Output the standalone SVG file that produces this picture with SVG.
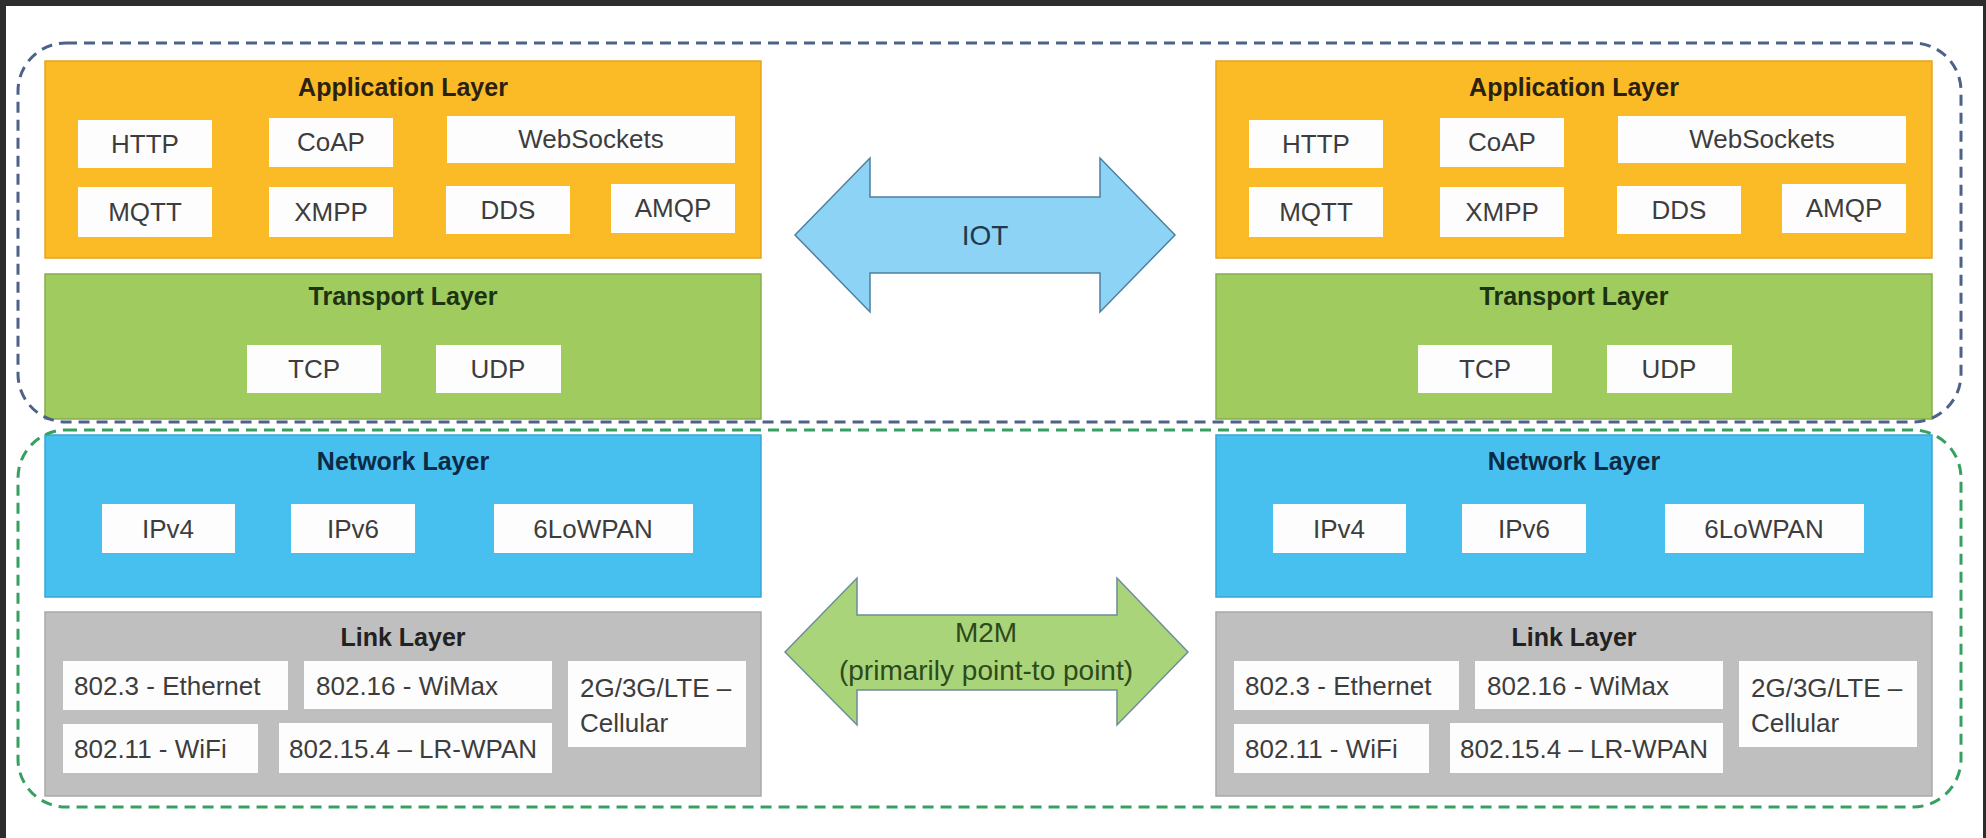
<svg xmlns="http://www.w3.org/2000/svg" width="1986" height="838" viewBox="0 0 1986 838">
  <style>
    .bg { fill: #ffffff; }
    .frame { fill: #2d2d2d; }
    .app { fill: #fbbb27; stroke: #e6a51c; stroke-width: 1.5; }
    .trn { fill: #a0cb5e; stroke: #86ad4c; stroke-width: 1.5; }
    .net { fill: #47c0f0; stroke: #36a6d6; stroke-width: 1.5; }
    .lnk { fill: #bfbfbf; stroke: #a9a9a9; stroke-width: 1.5; }
    .box { fill: #fdfdfd; }
    .title { font-family: "Liberation Sans", Arial, sans-serif; font-weight: bold; font-size: 25px; text-anchor: middle; }
    .lbl { font-family: "Liberation Sans", Arial, sans-serif; font-size: 26px; fill: #3d3d3d; }
    .c { text-anchor: middle; }
    .zone-iot { fill: none; stroke: #4d6189; stroke-width: 3; stroke-dasharray: 11 7; }
    .zone-m2m { fill: none; stroke: #36a062; stroke-width: 3; stroke-dasharray: 11 7; }
    .arrow-iot { fill: #8dd3f5; stroke: #4f7fa0; stroke-width: 1.5; }
    .arrow-m2m { fill: #a9d47a; stroke: #6e8c9a; stroke-width: 1.5; }
    .atext { font-family: "Liberation Sans", Arial, sans-serif; font-size: 28px; text-anchor: middle; }
  </style>

  <rect class="bg" x="0" y="0" width="1986" height="838"/>
  <rect class="frame" x="0" y="0" width="1986" height="6"/>
  <rect class="frame" x="0" y="0" width="6" height="838"/>
  <rect class="frame" x="1983" y="0" width="3" height="838"/>

  <!-- protocol stack, left device -->
  <g id="stack-left">
    <g id="app-left">
      <rect class="app" x="45" y="61" width="716" height="197"/>
      <text class="title" x="403" y="96" fill="#2a2110">Application Layer</text>
      <rect class="box" x="78" y="120" width="134" height="48"/><text class="lbl c" x="145" y="153">HTTP</text>
      <rect class="box" x="269" y="118" width="124" height="49"/><text class="lbl c" x="331" y="151">CoAP</text>
      <rect class="box" x="447" y="116" width="288" height="47"/><text class="lbl c" x="591" y="148">WebSockets</text>
      <rect class="box" x="78" y="187" width="134" height="50"/><text class="lbl c" x="145" y="221">MQTT</text>
      <rect class="box" x="269" y="187" width="124" height="50"/><text class="lbl c" x="331" y="221">XMPP</text>
      <rect class="box" x="446" y="186" width="124" height="48"/><text class="lbl c" x="508" y="219">DDS</text>
      <rect class="box" x="611" y="184" width="124" height="49"/><text class="lbl c" x="673" y="217">AMQP</text>
    </g>
    <g id="transport-left">
      <rect class="trn" x="45" y="274" width="716" height="145"/>
      <text class="title" x="403" y="305" fill="#1d3312">Transport Layer</text>
      <rect class="box" x="247" y="345" width="134" height="48"/><text class="lbl c" x="314" y="378">TCP</text>
      <rect class="box" x="436" y="345" width="125" height="48"/><text class="lbl c" x="498" y="378">UDP</text>
    </g>
    <g id="network-left">
      <rect class="net" x="45" y="435" width="716" height="162"/>
      <text class="title" x="403" y="470" fill="#0d2a45">Network Layer</text>
      <rect class="box" x="102" y="504" width="133" height="49"/><text class="lbl c" x="168" y="538">IPv4</text>
      <rect class="box" x="291" y="504" width="124" height="49"/><text class="lbl c" x="353" y="538">IPv6</text>
      <rect class="box" x="494" y="504" width="199" height="49"/><text class="lbl c" x="593" y="538">6LoWPAN</text>
    </g>
    <g id="link-left">
      <rect class="lnk" x="45" y="612" width="716" height="184"/>
      <text class="title" x="403" y="646" fill="#222222">Link Layer</text>
      <rect class="box" x="63" y="661" width="225" height="49"/><text class="lbl" x="74" y="695">802.3 - Ethernet</text>
      <rect class="box" x="304" y="661" width="248" height="48"/><text class="lbl" x="316" y="695">802.16 - WiMax</text>
      <rect class="box" x="568" y="661" width="178" height="86"/>
      <text class="lbl" x="580" y="697">2G/3G/LTE –</text>
      <text class="lbl" x="580" y="732">Cellular</text>
      <rect class="box" x="63" y="724" width="195" height="49"/><text class="lbl" x="74" y="758">802.11 - WiFi</text>
      <rect class="box" x="279" y="723" width="273" height="50"/><text class="lbl" x="289" y="758">802.15.4 – LR-WPAN</text>
    </g>
  </g>

  <!-- protocol stack, right device (same layout, shifted) -->
  <g id="stack-right" transform="translate(1171,0)">
    <g id="app-right">
      <rect class="app" x="45" y="61" width="716" height="197"/>
      <text class="title" x="403" y="96" fill="#2a2110">Application Layer</text>
      <rect class="box" x="78" y="120" width="134" height="48"/><text class="lbl c" x="145" y="153">HTTP</text>
      <rect class="box" x="269" y="118" width="124" height="49"/><text class="lbl c" x="331" y="151">CoAP</text>
      <rect class="box" x="447" y="116" width="288" height="47"/><text class="lbl c" x="591" y="148">WebSockets</text>
      <rect class="box" x="78" y="187" width="134" height="50"/><text class="lbl c" x="145" y="221">MQTT</text>
      <rect class="box" x="269" y="187" width="124" height="50"/><text class="lbl c" x="331" y="221">XMPP</text>
      <rect class="box" x="446" y="186" width="124" height="48"/><text class="lbl c" x="508" y="219">DDS</text>
      <rect class="box" x="611" y="184" width="124" height="49"/><text class="lbl c" x="673" y="217">AMQP</text>
    </g>
    <g id="transport-right">
      <rect class="trn" x="45" y="274" width="716" height="145"/>
      <text class="title" x="403" y="305" fill="#1d3312">Transport Layer</text>
      <rect class="box" x="247" y="345" width="134" height="48"/><text class="lbl c" x="314" y="378">TCP</text>
      <rect class="box" x="436" y="345" width="125" height="48"/><text class="lbl c" x="498" y="378">UDP</text>
    </g>
    <g id="network-right">
      <rect class="net" x="45" y="435" width="716" height="162"/>
      <text class="title" x="403" y="470" fill="#0d2a45">Network Layer</text>
      <rect class="box" x="102" y="504" width="133" height="49"/><text class="lbl c" x="168" y="538">IPv4</text>
      <rect class="box" x="291" y="504" width="124" height="49"/><text class="lbl c" x="353" y="538">IPv6</text>
      <rect class="box" x="494" y="504" width="199" height="49"/><text class="lbl c" x="593" y="538">6LoWPAN</text>
    </g>
    <g id="link-right">
      <rect class="lnk" x="45" y="612" width="716" height="184"/>
      <text class="title" x="403" y="646" fill="#222222">Link Layer</text>
      <rect class="box" x="63" y="661" width="225" height="49"/><text class="lbl" x="74" y="695">802.3 - Ethernet</text>
      <rect class="box" x="304" y="661" width="248" height="48"/><text class="lbl" x="316" y="695">802.16 - WiMax</text>
      <rect class="box" x="568" y="661" width="178" height="86"/>
      <text class="lbl" x="580" y="697">2G/3G/LTE –</text>
      <text class="lbl" x="580" y="732">Cellular</text>
      <rect class="box" x="63" y="724" width="195" height="49"/><text class="lbl" x="74" y="758">802.11 - WiFi</text>
      <rect class="box" x="279" y="723" width="273" height="50"/><text class="lbl" x="289" y="758">802.15.4 – LR-WPAN</text>
    </g>
  </g>

  <!-- dashed scope outlines -->
  <g id="zones">
    <rect id="zone-iot" class="zone-iot" x="18" y="43" width="1943" height="379" rx="48" ry="48"/>
    <rect id="zone-m2m" class="zone-m2m" x="18" y="430" width="1943" height="377" rx="48" ry="48"/>
  </g>

  <!-- block double arrows between the stacks -->
  <g id="connectors">
    <g id="iot-arrow">
      <polygon class="arrow-iot" points="795,235 870,158 870,197 1100,197 1100,158 1175,235 1100,312 1100,273 870,273 870,312"/>
      <text class="atext" x="985" y="245" fill="#1f3a4a">IOT</text>
    </g>
    <g id="m2m-arrow">
      <polygon class="arrow-m2m" points="785,652 857,578 857,615 1117,615 1117,578 1188,652 1117,725 1117,690 857,690 857,725"/>
      <text class="atext" x="986" y="642" fill="#2e4a1c">M2M</text>
      <text class="atext" x="986" y="680" fill="#2e4a1c">(primarily point-to point)</text>
    </g>
  </g>
</svg>
